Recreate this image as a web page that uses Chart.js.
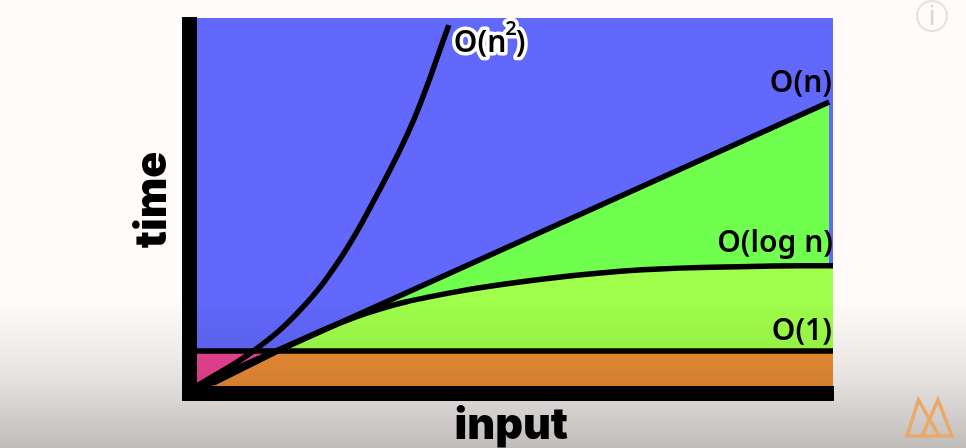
<!DOCTYPE html>
<html>
<head>
<meta charset="utf-8">
<title>Big O</title>
<script src="https://cdn.jsdelivr.net/npm/chart.js@4"></script>
<style>
    html, body { margin: 0; padding: 0; width: 966px; height: 448px; overflow: hidden; background: #fffbf9; }
    #grafico { position: absolute; left: 0; top: 0; }
    #sombra {
        position: absolute; left: 0; top: 300px; width: 966px; height: 148px;
        background: linear-gradient(to bottom, rgba(0,0,0,0), rgba(0,0,0,0.09) 50%, rgba(0,0,0,0.25));
        pointer-events: none;
    }
    #info {
        position: absolute; left: 916px; top: 0px; width: 28px; height: 28px;
        border: 2px solid #e2e0df; border-radius: 50%;
        color: #d8d6d5; font: 28px/28px "Liberation Sans", sans-serif; text-align: center;
    }
    #logo { position: absolute; left: 904px; top: 396px; }
</style>
</head>
<body>
<canvas id="grafico" width="966" height="448"></canvas>
<div id="sombra"></div>
<svg id="logo" width="52" height="44" viewBox="0 0 52 44">
    <path d="M3 40 L14.5 4 L35 40 Z M18 40 L34 4 L48 40 Z" fill="none" stroke="#e9aa69" stroke-width="3.5"/>
</svg>
<div id="info">i</div>
<script>
var nomesSeries = ['O(n²)', 'O(n)', 'O(log n)', 'O(1)'];

var quadX = [0, 9.1, 16.2, 22.5, 28, 34, 39.6];
var quadY = [0, 9.8, 20.6, 34.5, 51, 72, 98.1];

var linearX = [0, 2.8, 13, 99.4];
var linearY = [0, 1, 9.8, 77.2];

var logX = [0, 13, 26.7, 39.8, 55.5, 70, 87, 100];
var logY = [0, 10, 19.8, 25.3, 29.3, 31.6, 32.5, 32.7];

var constanteX = [0, 100];
var constanteY = [9.5, 9.5];

var pisoX = [0, 2.8, 12.7, 100];
var pisoY = [0, 1, 9.5, 9.5];

function pontos(xs, ys) {
    return xs.map(function (x, i) {
        return { x: x, y: ys[i] };
    });
}

var fundoPlot = {
    id: 'fundoPlot',
    beforeDraw: function (chart) {
        var a = chart.chartArea;
        var topo = chart.scales.y.getPixelForValue(100);
        chart.ctx.fillStyle = '#6168fb';
        chart.ctx.fillRect(a.left, topo, a.right - a.left, a.bottom - topo);
    }
};

var rotulos = {
    id: 'rotulos',
    afterDatasetsDraw: function (chart) {
        var ctx = chart.ctx;
        var direita = chart.scales.x.getPixelForValue(100);
        var yN = chart.scales.y.getPixelForValue(linearY[linearY.length - 1]);
        var yLog = chart.scales.y.getPixelForValue(logY[logY.length - 1]);
        var yUm = chart.scales.y.getPixelForValue(constanteY[1]);
        var quadFimX = chart.scales.x.getPixelForValue(quadX[quadX.length - 1]);
        var quadFimY = chart.scales.y.getPixelForValue(quadY[quadY.length - 1]);
        var fonte = '600 30px "Noto Sans"';
        var fontePequena = '600 20px "Noto Sans"';

        ctx.save();
        ctx.fillStyle = '#000';
        ctx.textBaseline = 'alphabetic';
        ctx.font = fonte;
        ctx.textAlign = 'right';
        ctx.fillText(nomesSeries[1], direita - 1, yN - 10);
        ctx.fillText(nomesSeries[2], direita, yLog - 14);
        ctx.fillText(nomesSeries[3], direita - 1, yUm - 11);

        // O(n2) tem o contorno branco
        var partes = ['O(n', '2', ')'];
        var xTexto = quadFimX + 5;
        var yTexto = quadFimY + 27;
        ctx.textAlign = 'left';
        ctx.lineJoin = 'round';
        ctx.strokeStyle = '#fff';
        ctx.lineWidth = 7;
        var larg0 = ctx.measureText(partes[0]).width;
        ctx.font = fontePequena;
        var larg1 = ctx.measureText(partes[1]).width;
        ctx.font = fonte;
        ctx.strokeText(partes[0], xTexto, yTexto);
        ctx.strokeText(partes[2], xTexto + larg0 + larg1 - 2, yTexto);
        ctx.font = fontePequena;
        ctx.strokeText(partes[1], xTexto + larg0 - 1, yTexto - 17);
        ctx.fillText(partes[1], xTexto + larg0 - 1, yTexto - 17);
        ctx.font = fonte;
        ctx.fillText(partes[0], xTexto, yTexto);
        ctx.fillText(partes[2], xTexto + larg0 + larg1 - 2, yTexto);

        // titulo do eixo y, fora do centro do eixo
        ctx.translate(166, 200);
        ctx.rotate(-Math.PI / 2);
        ctx.textAlign = 'center';
        ctx.font = '900 43px Inter';
        ctx.fillText('time', 0, 0);
        ctx.restore();
    }
};

var ctx = document.getElementById('grafico').getContext('2d');
new Chart(ctx, {
    type: 'line',
    data: {
        datasets: [{
            label: 'piso',
            data: pontos(pisoX, pisoY),
            borderWidth: 0,
            backgroundColor: '#ee8f36',
            fill: 'origin',
            tension: 0
        }, {
            label: nomesSeries[0],
            data: pontos(quadX, quadY),
            borderColor: '#000',
            borderWidth: 5.5,
            fill: false,
            tension: 0.4
        }, {
            label: nomesSeries[2],
            data: pontos(logX, logY),
            borderColor: '#000',
            borderWidth: 5.5,
            backgroundColor: '#9fff4b',
            fill: 'origin',
            tension: 0.4
        }, {
            label: nomesSeries[1],
            data: pontos(linearX, linearY),
            borderColor: '#000',
            borderWidth: 5.5,
            backgroundColor: '#70ff4e',
            fill: 'origin',
            tension: 0
        }, {
            label: nomesSeries[3],
            data: pontos(constanteX, constanteY),
            borderColor: '#000',
            borderWidth: 5.5,
            backgroundColor: '#ee4496',
            fill: 'origin',
            tension: 0
        }]
    },
    options: {
        responsive: false,
        animation: false,
        elements: { point: { radius: 0 } },
        layout: { padding: { left: 189.5, right: 133, top: 24.5, bottom: 0 } },
        plugins: {
            legend: { display: false },
            tooltip: { enabled: false },
            filler: { drawTime: 'beforeDatasetsDraw' }
        },
        scales: {
            x: {
                type: 'linear',
                min: -1.18,
                max: 100,
                grid: { display: false, drawTicks: false },
                ticks: { display: false },
                border: { color: '#000', width: 15, z: 1 },
                title: {
                    display: true,
                    text: 'input',
                    color: '#000',
                    font: { family: 'Inter', size: 43, weight: '900', lineHeight: 1 },
                    padding: { top: 11.5, bottom: 0 }
                }
            },
            y: {
                min: -2.04,
                max: 98.23,
                grid: { display: false, drawTicks: false },
                ticks: { display: false },
                border: { color: '#000', width: 15, z: 1 }
            }
        }
    },
    plugins: [fundoPlot, rotulos]
});
</script>
</body>
</html>
